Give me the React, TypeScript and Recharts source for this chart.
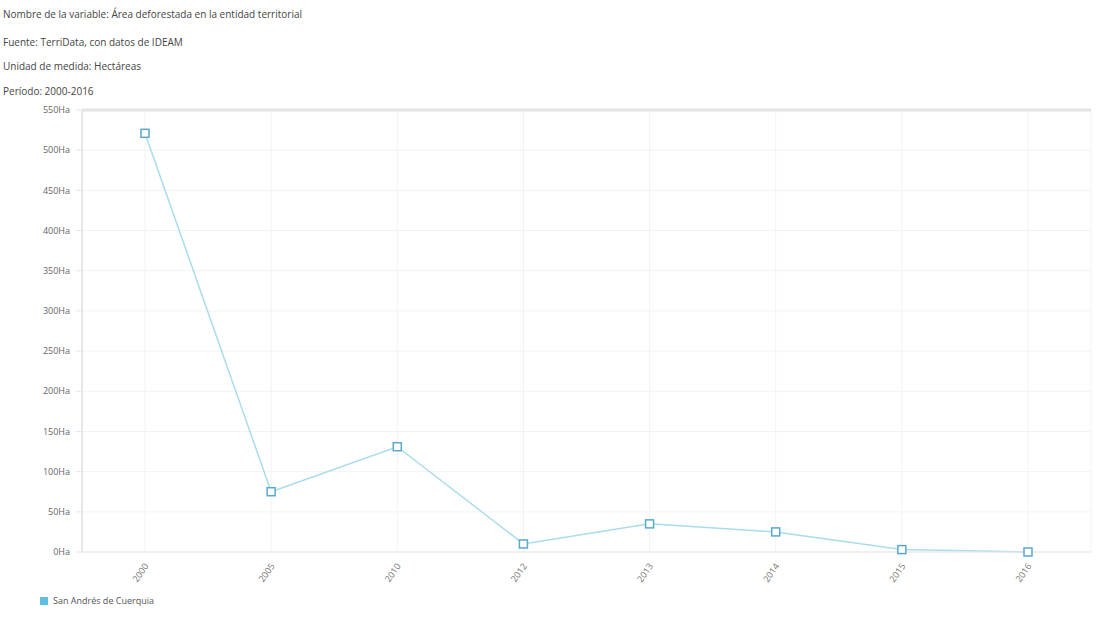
import { LineChart, Line, XAxis, YAxis, CartesianGrid, Legend, ReferenceLine } from "recharts"

const years = ["2000", "2005", "2010", "2012", "2013", "2014", "2015", "2016"]
const hectares = [521, 75, 131, 10, 35, 25, 3, 0]
const yTicks = [0, 50, 100, 150, 200, 250, 300, 350, 400, 450, 500, 550]
const headerLines = [
    "Nombre de la variable: Área deforestada en la entidad territorial",
    "Fuente: TerriData, con datos de IDEAM",
    "Unidad de medida: Hectáreas",
    "Período: 2000-2016",
]
const seriesName = "San Andrés de Cuerquia"

const data = years.map((y, i) => ({ name: y, value: hectares[i] }))

const font = "'Open Sans', 'DejaVu Sans', sans-serif"

function SquareDot(props: any) {
    const { cx, cy } = props
    if (cx == null || cy == null) return null
    return <rect x={cx - 4} y={cy - 4} width={8} height={8} fill="#fff" stroke="#5aa9cc" strokeWidth={1.5} />
}

function XTick(props: any) {
    const { x, y, payload } = props
    return (
        <text
            x={x + 4}
            y={y + 6}
            transform={`rotate(-55 ${x + 4} ${y + 6})`}
            textAnchor="end"
            fontSize={9}
            fill="#777"
            fontFamily={font}
        >
            {payload.value}
        </text>
    )
}

function LegendContent() {
    return (
        <div style={{ display: "flex", alignItems: "center", paddingLeft: 32, paddingTop: 4, fontFamily: font, fontSize: 9, color: "#555" }}>
            <span style={{ width: 8, height: 8, background: "#5bc0de", display: "inline-block", marginRight: 5 }} />
            {seriesName}
        </div>
    )
}

export default function App() {
    return (
        <div style={{ position: "absolute", left: 0, top: 0, width: 1099, height: 636, overflow: "hidden", background: "#fff" }}>
            {headerLines.map((t, i) => (
                <div
                    key={t}
                    style={{ position: "absolute", left: 3, top: [7, 35, 59, 84][i], fontFamily: font, fontSize: 10, color: "#444", whiteSpace: "nowrap" }}
                >
                    {t}
                </div>
            ))}
            <LineChart width={1099} height={636} data={data} margin={{ top: 110, right: 8, left: 8, bottom: 0 }}>
                <CartesianGrid stroke="#f3f3f3" />
                <XAxis
                    dataKey="name"
                    height={38}
                    padding={{ left: 63, right: 63 }}
                    tick={<XTick />}
                    tickLine={false}
                    axisLine={{ stroke: "#e6e6e6" }}
                    interval={0}
                />
                <YAxis
                    width={74}
                    domain={[0, 550]}
                    ticks={yTicks}
                    tickFormatter={(v) => `${v}Ha`}
                    tick={{ fontSize: 9, fill: "#666", fontFamily: font, dx: -4 }}
                    tickLine={{ stroke: "#e6e6e6" }}
                    axisLine={{ stroke: "#e6e6e6", strokeWidth: 2 }}
                    interval={0}
                />
                <ReferenceLine y={550} stroke="#e4e4e4" strokeWidth={3} />
                <Legend verticalAlign="bottom" align="left" height={46} content={<LegendContent />} />
                <Line
                    type="linear"
                    dataKey="value"
                    name={seriesName}
                    stroke="#a9dcee"
                    strokeWidth={1.5}
                    dot={<SquareDot />}
                    activeDot={false}
                    isAnimationActive={false}
                />
            </LineChart>
        </div>
    )
}
